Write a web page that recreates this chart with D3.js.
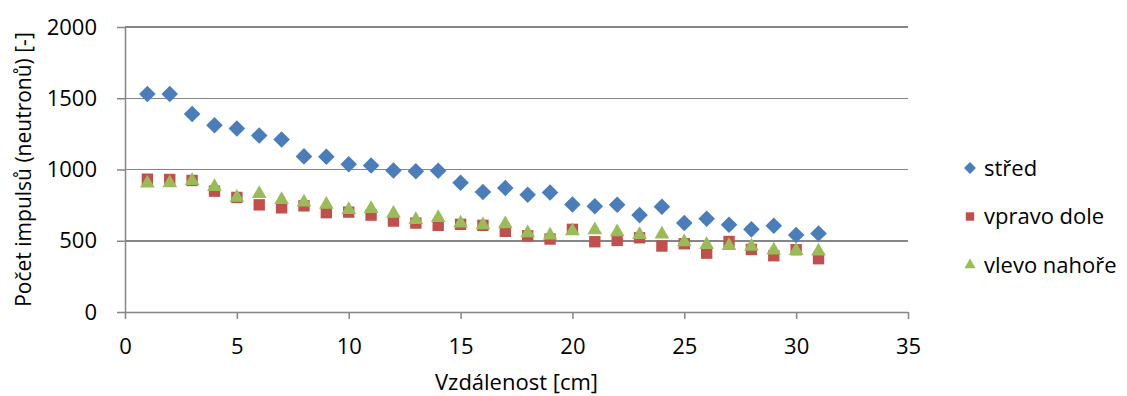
<!DOCTYPE html>
<html>
<head>
<meta charset="utf-8">
<script src="https://cdn.jsdelivr.net/npm/d3@7"></script>
<style>
  body { margin: 0; background: #fff; }
  text { font-family: "Open Sans", sans-serif; fill: #000; }
</style>
</head>
<body>
<div id="chart"></div>
<script>
// Data
var distances = d3.range(1, 32);
var stred = [1530, 1530, 1390, 1310, 1288, 1238, 1210, 1092, 1090, 1037, 1028, 993, 988, 991, 907,
             842, 870, 823, 839, 755, 742, 753, 680, 739, 624, 654, 612, 580, 605, 540, 551];
var vpravoDole = [932, 930, 923, 848, 804, 752, 731, 745, 697, 701, 680, 638, 624, 608, 615,
                  608, 566, 535, 512, 580, 493, 502, 521, 463, 479, 413, 495, 439, 395, 437, 374];
var vlevoNahore = [904, 905, 921, 879, 804, 830, 788, 771, 755, 718, 724, 692, 648, 661, 622,
                   610, 617, 554, 538, 568, 575, 561, 542, 546, 491, 472, 465, 460, 434, 430, 427];
var seriesNames = ["střed", "vpravo dole", "vlevo nahoře"];
var seriesColors = ["#4a7ebb", "#c0504d", "#9bbb59"];
var seriesShapes = [d3.symbolDiamond2, d3.symbolSquare2, d3.symbolTriangle2];
var xTicks = [0, 5, 10, 15, 20, 25, 30, 35];
var yTicks = [0, 500, 1000, 1500, 2000];

var width = 1127, height = 396;
var margin = { left: 125, right: 219, top: 27, bottom: 84 };
var fontSize = "22px";

var svg = d3.select("#chart").append("svg")
    .attr("width", width)
    .attr("height", height);

var x = d3.scaleLinear().domain([0, 35]).range([margin.left, width - margin.right]);
var y = d3.scaleLinear().domain([0, 2000]).range([height - margin.bottom, margin.top]);

// Gridlines
svg.append("g")
  .selectAll("line")
  .data(yTicks.slice(1))
  .enter().append("line")
    .attr("x1", x(0))
    .attr("x2", x(35))
    .attr("y1", function(d) { return y(d); })
    .attr("y2", function(d) { return y(d); })
    .attr("shape-rendering", "crispEdges")
    .style("stroke", "#868686")
    .style("stroke-width", 1.5);

// Axes
var yAxis = svg.append("g")
    .attr("transform", "translate(" + x(0) + ",0)")
    .call(d3.axisLeft(y).tickValues(yTicks).tickFormat(d3.format("d"))
      .tickSizeInner(8).tickSizeOuter(0).tickPadding(20));
var xAxis = svg.append("g")
    .attr("transform", "translate(0," + y(0) + ")")
    .call(d3.axisBottom(x).tickValues(xTicks).tickFormat(d3.format("d"))
      .tickSizeInner(7).tickSizeOuter(0).tickPadding(19));

[xAxis, yAxis].forEach(function(a) {
  a.attr("font-family", null).attr("font-size", null);
  a.select(".domain").style("stroke", "#868686").style("stroke-width", 1.5);
  a.selectAll(".tick line").style("stroke", "#868686").style("stroke-width", 1.5);
  a.selectAll(".tick text")
      .style("font-family", "'Open Sans', sans-serif")
      .style("font-size", fontSize)
      .style("fill", "#000");
});

// Axis titles
svg.append("text")
    .attr("x", (x(0) + x(35)) / 2)
    .attr("y", 390)
    .attr("text-anchor", "middle")
    .style("font-size", fontSize)
    .text("Vzdálenost [cm]");

svg.append("text")
    .attr("transform", "translate(31," + (y(0) + y(2000)) / 2 + ") rotate(-90)")
    .attr("text-anchor", "middle")
    .style("font-size", "21px")
    .text("Počet impulsů (neutronů) [-]");

// Points: draw series in order so later ones sit on top
var series = [stred, vpravoDole, vlevoNahore];
var markerSizes = [175, 165, 155];

series.forEach(function(values, i) {
  var pts = distances.map(function(d, j) { return { x: d, y: values[j] }; });
  svg.append("g")
    .selectAll("path")
    .data(pts)
    .enter().append("path")
      .attr("transform", function(d) { return "translate(" + x(d.x) + "," + y(d.y) + ")"; })
      .attr("d", d3.symbol().type(seriesShapes[i]).size(markerSizes[i]))
      .style("fill", seriesColors[i]);
});

// Legend
var legend = svg.append("g")
  .selectAll("g")
  .data(seriesNames)
  .enter().append("g")
    .attr("transform", function(d, i) { return "translate(970," + (168 + i * 48.5) + ")"; });

legend.append("path")
    .attr("d", function(d, i) { return d3.symbol().type(seriesShapes[i]).size(90)(); })
    .style("fill", function(d, i) { return seriesColors[i]; });

legend.append("text")
    .attr("x", 14)
    .attr("dy", "0.35em")
    .style("font-size", fontSize)
    .text(function(d) { return d; });
</script>
</body>
</html>
